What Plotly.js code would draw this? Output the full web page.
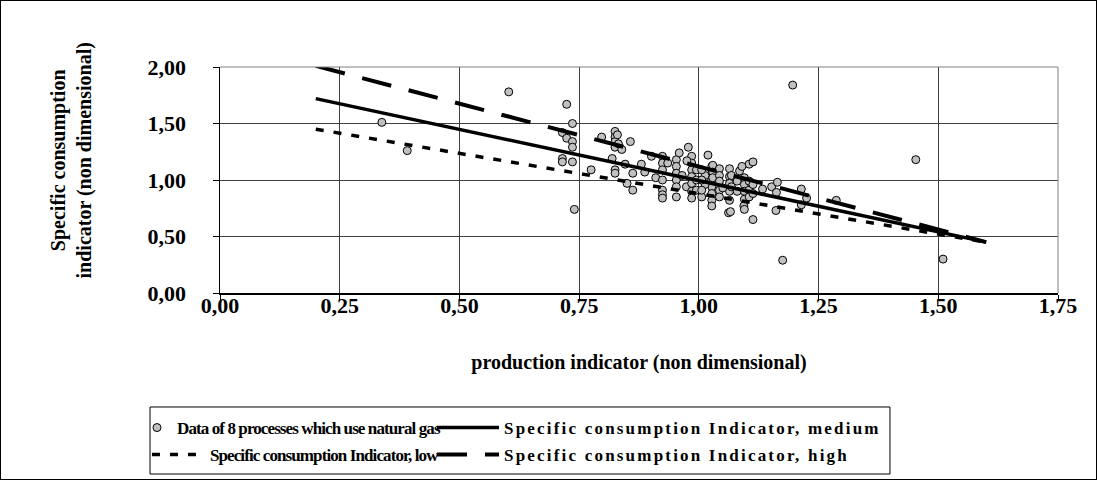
<!DOCTYPE html>
<html><head><meta charset="utf-8">
<script src="https://cdn.plot.ly/plotly-3.0.1.min.js"></script>
<style>html,body{margin:0;padding:0;background:#fff}#chart{width:1095px;height:478px;border:1px solid #000}</style>
</head><body><div id="chart"></div>
<script>
const dataX = [0.338,0.391,0.603,0.724,0.736,0.715,0.724,0.736,0.736,0.715,0.715,0.736,0.740,0.797,0.775,0.819,0.825,0.825,0.825,0.825,0.825,0.825,
0.839,0.857,0.846,0.862,0.880,0.887,0.901,0.910,0.924,0.924,0.924,0.924,0.850,0.862,0.924,0.924,0.924,0.935,0.953,0.953,0.953,0.953,0.953,0.953,0.959,0.974,0.978,0.985,0.985,0.985,0.985,0.985,0.985,0.985,0.995,0.995,0.995,1.006,1.019,1.027,1.027,1.027,1.027,1.027,1.027,1.027,1.013,1.013,
1.006,1.006,1.006,1.029,1.029,1.029,1.043,1.043,1.043,1.043,1.043,1.064,1.064,1.064,1.064,1.064,1.062,1.066,1.068,1.068,1.080,1.080,1.095,1.095,1.095,1.095,1.094,1.095,1.105,1.113,1.105,1.105,1.105,1.113,1.113,1.113,1.133,1.152,1.162,1.164,1.161,1.214,1.225,1.214,1.287,
1.175,1.196,1.453,1.510,0.965,0.975,1.050,1.085,1.090,0.830,0.832];
const dataY = [1.51,1.26,1.78,1.67,1.50,1.42,1.37,1.34,1.29,1.19,1.16,1.16,0.74,1.38,1.09,1.19,1.43,1.38,1.34,1.29,1.09,1.06,
1.27,1.34,1.14,1.06,1.14,1.07,1.21,1.02,1.21,1.15,1.09,1.00,0.97,0.91,0.91,0.87,0.84,1.15,1.18,1.12,1.06,1.00,0.94,0.85,1.24,0.94,1.29,1.21,1.15,1.09,1.03,0.97,0.90,0.84,1.09,1.00,0.91,0.85,1.22,1.12,1.06,1.00,0.94,0.88,0.82,0.77,1.04,0.96,
1.09,1.00,0.91,1.13,1.07,1.02,1.10,1.04,0.99,0.91,0.85,1.10,1.03,0.97,0.90,0.82,0.71,0.72,1.04,0.94,0.99,0.90,1.02,0.96,0.90,0.83,0.77,0.74,1.14,1.16,0.99,0.91,0.85,0.96,0.88,0.65,0.92,0.94,0.89,0.98,0.73,0.92,0.84,0.78,0.82,
0.29,1.84,1.18,0.30,1.04,1.17,0.93,1.08,1.12,1.40,1.32];
const lineX = [0.2, 1.6];
const mediumY = [1.72, 0.45];
const lowY = [1.45, 0.45];
const highY = [2.01, 0.45];
const xTickVals = [0, 0.25, 0.5, 0.75, 1, 1.25, 1.5, 1.75];
const yTickVals = [0, 0.5, 1, 1.5, 2];
const names = ['Data of 8 processes which use natural gas','Specific consumption Indicator, medium','Specific consumption Indicator, low','Specific consumption Indicator, high'];

const FONT = 'Liberation Serif, Times New Roman, serif';
const wide = s => '<span style="letter-spacing:2.2px">' + s + '</span>';
const narrow = s => '<span style="letter-spacing:-0.9px">' + s + '</span>';
const traces = [
 {x: dataX, y: dataY, type:'scatter', mode:'markers', name:narrow(names[0]), legend:'legend',
  marker:{size:8, color:'#c0c0c0', line:{color:'#000', width:1}}},
 {x: lineX, y: mediumY, type:'scatter', mode:'lines', name:wide(names[1]), legend:'legend2', line:{color:'#000', width:3.5}},
 {x: lineX, y: lowY, type:'scatter', mode:'lines', name:narrow(names[2]), legend:'legend3', line:{color:'#000', width:3.5, dash:'8px,10px'}},
 {x: lineX, y: highY, type:'scatter', mode:'lines', name:wide(names[3]), legend:'legend4', line:{color:'#000', width:4, dash:'30px,18px'}}
];
const lg = (x, y, iw, fs) => ({orientation:'v', xref:'container', yref:'container', x:x, y:y, xanchor:'left', yanchor:'middle',
  bgcolor:'rgba(0,0,0,0)', borderwidth:0, itemwidth:iw, font:{family:FONT, size:fs, weight:'bold'}});
const layout = {
 width:1095, height:478,
 margin:{l:219, r:38, t:66, b:186, autoexpand:false},
 paper_bgcolor:'#fff', plot_bgcolor:'#fff',
 separators:', ',
 font:{family:FONT, color:'#000', size:20, weight:'bold'},
 showlegend:true,
 xaxis:{range:[0,1.75], tickvals:xTickVals, tickformat:'.2f', showgrid:true, gridcolor:'#404040', gridwidth:1,
  showline:true, linecolor:'#000', linewidth:1.5, ticks:'outside', ticklen:6, tickcolor:'#000', zeroline:false,
  ticklabelstandoff:-14, automargin:false,
  tickfont:{family:FONT, size:22, weight:'bold'},
  title:{text:'production indicator (non dimensional)', font:{family:FONT, size:20, weight:'bold'}, standoff:38}},
 yaxis:{range:[0,2], tickvals:yTickVals, tickformat:'.2f', showgrid:true, gridcolor:'#404040', gridwidth:1,
  showline:true, linecolor:'#000', linewidth:1.5, ticks:'outside', ticklen:6, tickcolor:'#000', zeroline:false,
  ticklabelstandoff:22, automargin:false,
  tickfont:{family:FONT, size:22, weight:'bold'}},
 shapes:[
  {type:'line', xref:'paper', yref:'paper', x0:0, x1:1, y0:1, y1:1, line:{color:'#808080', width:1}},
  {type:'line', xref:'paper', yref:'paper', x0:1, x1:1, y0:0, y1:1, line:{color:'#808080', width:1}},
  {type:'rect', xref:'paper', yref:'paper', x0:-0.0835, x1:0.7995, y0:-0.8009, y1:-0.5044, line:{color:'#000', width:1}, fillcolor:'#fff'}
 ],
 annotations:[
  {text:'Specific consumption<br>indicator (non dimensional)', textangle:-90, xref:'paper', yref:'paper',
   x:-0.177, y:0.585, xanchor:'center', yanchor:'middle', showarrow:false,
   font:{family:FONT, size:20, weight:'bold'}}
 ],
 legend: lg(0.1242, 0.1067, 30, 17),
 legend3: lg(0.1333, 0.0502, 53, 17),
 legend2: lg(0.3936, 0.1067, 62, 17),
 legend4: lg(0.3936, 0.0502, 62, 17)
};
Plotly.newPlot('chart', traces, layout, {staticPlot:true, displayModeBar:false});
</script></body></html>
